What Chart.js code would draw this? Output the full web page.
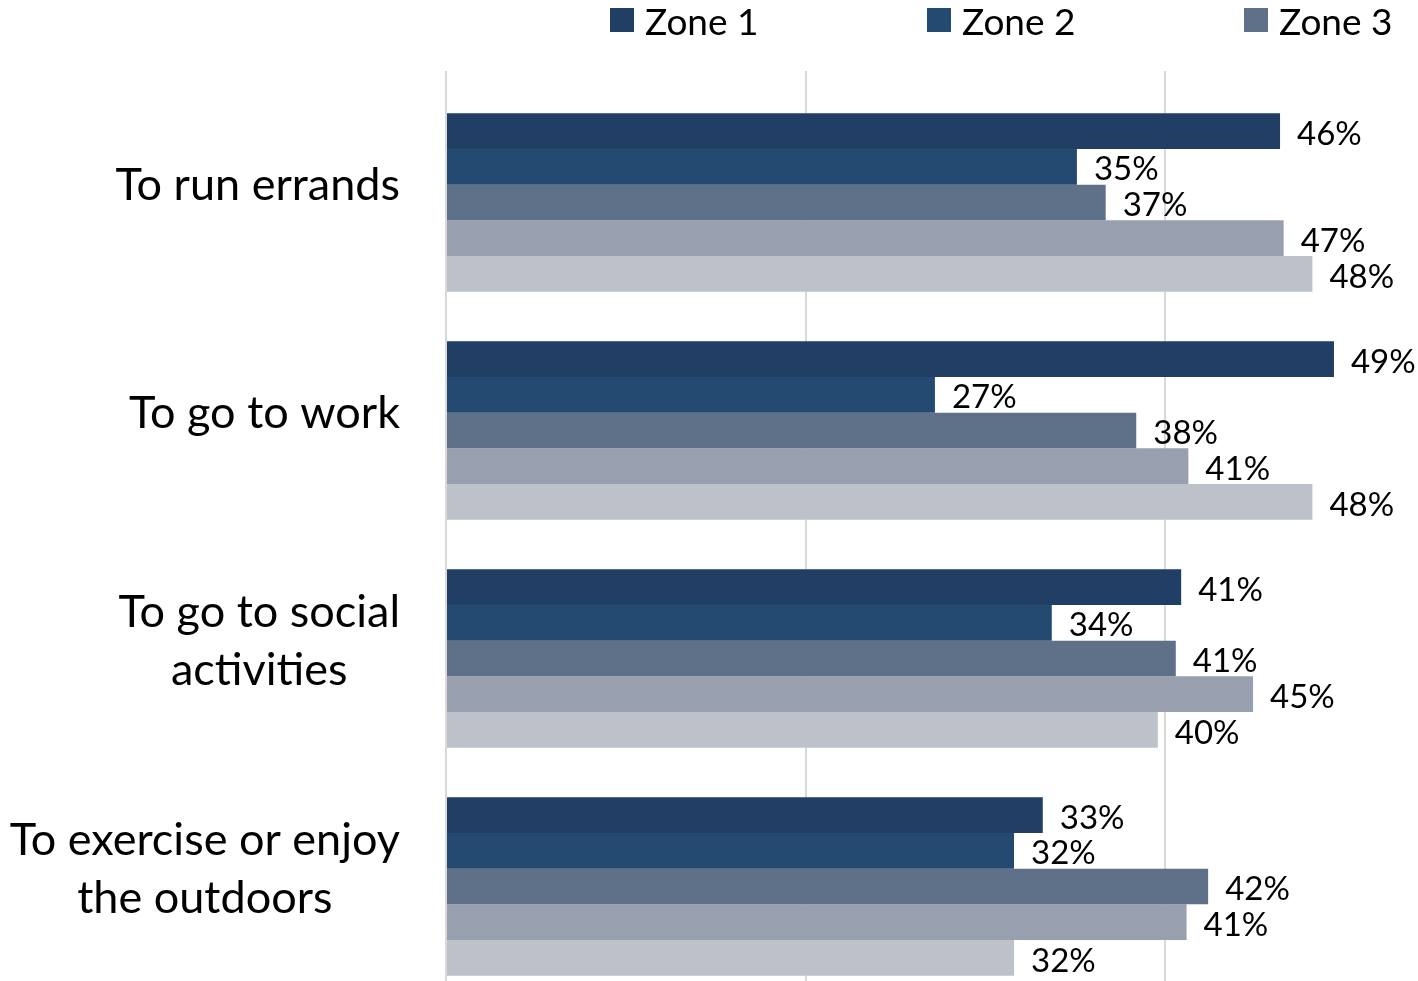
<!DOCTYPE html>
<html>
<head>
<meta charset="utf-8">
<script src="https://cdn.jsdelivr.net/npm/chart.js@4/dist/chart.umd.min.js"></script>
<style>
  html, body { margin: 0; padding: 0; background: #fff; overflow: hidden; }
  #wrap { position: relative; width: 1418px; height: 981px; overflow: hidden; }
  #chart { position: absolute; left: 0; top: 0; }
  #legend { position: absolute; left: 610px; top: -2px; display: flex; font-family: Lato, sans-serif; font-size: 37px; color: #000; }
  .item { width: 317px; height: 44px; display: flex; align-items: center; white-space: nowrap; }
  .box { width: 24px; height: 24px; margin-right: 11px; flex: none; }
</style>
</head>
<body>
<div id="wrap">
  <canvas id="chart" width="1540" height="1001"></canvas>
  <div id="legend"></div>
</div>
<script>
// values, labels show them rounded
const categories = [
  ["To run errands"],
  ["To go to work"],
  ["To go to social", "activities"],
  ["To exercise or enjoy", "the outdoors"]
];
const seriesNames = ["Zone 1", "Zone 2", "Zone 3", "Zone 4", "Zone 5"];
const zone1 = [46.4, 49.4, 40.9, 33.2];
const zone2 = [35.1, 27.2, 33.7, 31.6];
const zone3 = [36.7, 38.4, 40.6, 42.4];
const zone4 = [46.6, 41.3, 44.9, 41.2];
const zone5 = [48.2, 48.2, 39.6, 31.6];
const xTicks = [0, 20, 40, 60];

const seriesValues = [zone1, zone2, zone3, zone4, zone5];
const colors = ["#213f64", "#254a72", "#5f7089", "#989fae", "#bdc1c9"];

// category names: right-aligned block, lines centred inside it
const categoryLabels = {
  id: "categoryLabels",
  afterDraw(chart) {
    const ctx = chart.ctx;
    const scale = chart.scales.y;
    ctx.save();
    ctx.font = "45px Lato";
    ctx.fillStyle = "#000";
    ctx.textAlign = "center";
    ctx.textBaseline = "middle";
    chart.data.labels.forEach((lines, i) => {
      const blockW = Math.max(...lines.map(l => ctx.measureText(l).width));
      const cx = scale.right - 46 - blockW / 2;
      const cy = scale.getPixelForTick(i) - 17.5;
      lines.forEach((line, k) => {
        ctx.fillText(line, cx, cy + (k - (lines.length - 1) / 2) * 58);
      });
    });
    ctx.restore();
  }
};

const valueLabels = {
  id: "valueLabels",
  afterDatasetsDraw(chart) {
    const ctx = chart.ctx;
    ctx.save();
    ctx.font = "33px Lato";
    ctx.fillStyle = "#000";
    ctx.textAlign = "left";
    ctx.textBaseline = "middle";
    chart.data.datasets.forEach((ds, i) => {
      chart.getDatasetMeta(i).data.forEach((bar, j) => {
        ctx.fillText(Math.round(ds.data[j]) + "%", bar.x + 17, bar.y + 3);
      });
    });
    ctx.restore();
  }
};

const chart = new Chart(document.getElementById("chart"), {
  type: "bar",
  data: {
    labels: categories,
    datasets: seriesNames.map((name, i) => ({
      label: name,
      data: seriesValues[i],
      backgroundColor: colors[i],
      borderWidth: 0,
      categoryPercentage: 0.7825,
      barPercentage: 1
    }))
  },
  options: {
    indexAxis: "y",
    responsive: false,
    animation: false,
    layout: { padding: { top: 71, right: 15.5, bottom: 0.5, left: 0 } },
    plugins: {
      legend: { display: false },
      tooltip: {
        callbacks: {
          title: items => items[0].label.replace(/,/g, " "),
          label: item => item.dataset.label + ": " + Math.round(item.raw) + "%"
        }
      }
    },
    scales: {
      x: {
        position: "top",
        min: 0,
        max: 60,
        afterBuildTicks: s => { s.ticks = xTicks.map(v => ({ value: v })); },
        ticks: { display: false },
        grid: { color: "#d9d9d9", lineWidth: 2, drawTicks: true, tickLength: 17.5 },
        border: { display: false }
      },
      y: {
        afterFit: s => { s.width = 446; },
        ticks: { display: false },
        grid: { display: false },
        border: { display: false }
      }
    }
  },
  plugins: [categoryLabels, valueLabels]
});

// the original legend is cut off after the third entry
const legend = document.getElementById("legend");
chart.data.datasets.slice(0, 3).forEach(ds => {
  const item = document.createElement("div");
  item.className = "item";
  const box = document.createElement("span");
  box.className = "box";
  box.style.background = ds.backgroundColor;
  const text = document.createElement("span");
  text.textContent = ds.label;
  item.appendChild(box);
  item.appendChild(text);
  legend.appendChild(item);
});
</script>
</body>
</html>
